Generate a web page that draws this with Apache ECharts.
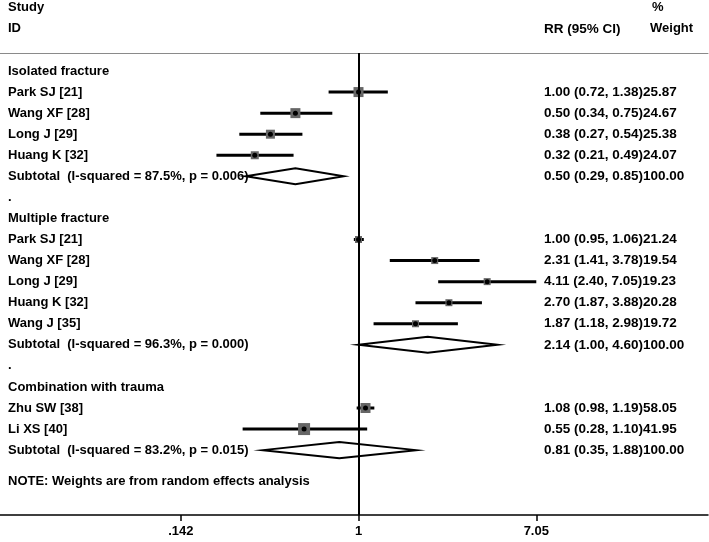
<!DOCTYPE html>
<html><head><meta charset="utf-8">
<script src="https://cdn.jsdelivr.net/npm/echarts@6/dist/echarts.min.js"></script>
<style>html,body{margin:0;padding:0;background:#fff}#c{width:709px;height:542px}</style>
</head><body><div id="c"></div>
<script>
// ---- data ----
const rowLabels = ["Isolated fracture","Park SJ [21]","Wang XF [28]","Long J [29]","Huang K [32]",
  "Subtotal  (I-squared = 87.5%, p = 0.006)",".",
  "Multiple fracture","Park SJ [21]","Wang XF [28]","Long J [29]","Huang K [32]","Wang J [35]",
  "Subtotal  (I-squared = 96.3%, p = 0.000)",".",
  "Combination with trauma","Zhu SW [38]","Li XS [40]",
  "Subtotal  (I-squared = 83.2%, p = 0.015)"];
const rowKind = ["group","study","study","study","study","subtotal","gap",
  "group","study","study","study","study","study","subtotal","gap",
  "group","study","study","subtotal"];
const rr     = [null,1.00,0.50,0.38,0.32,0.50,null,null,1.00,2.31,4.11,2.70,1.87,2.14,null,null,1.08,0.55,0.81];
const ciLow  = [null,0.72,0.34,0.27,0.21,0.29,null,null,0.95,1.41,2.40,1.87,1.18,1.00,null,null,0.98,0.28,0.35];
const ciHigh = [null,1.38,0.75,0.54,0.49,0.85,null,null,1.06,3.78,7.05,3.88,2.98,4.60,null,null,1.19,1.10,1.88];
const weight = [null,25.87,24.67,25.38,24.07,100.00,null,null,21.24,19.54,19.23,20.28,19.72,100.00,null,null,58.05,41.95,100.00];
const noteText = "NOTE: Weights are from random effects analysis";
const xTickValues = [0.142, 1, 7.05];
const xTickLabels = [".142", "1", "7.05"];
const headerLeft = ["Study", "ID"];
const headerEffect = "RR (95% CI)";
const headerWeight = ["%", "Weight"];

// ---- styles ----
const boxPx = [null,10,10,9,8,null,null,null,7,7,7,7,7,null,null,null,10,12,null];
const FONT = '"Liberation Sans", Arial, sans-serif';
const FS = 13;
const FS_R = 13.5;

const chart = echarts.init(document.getElementById('c'), null, {renderer: 'canvas'});

const rowsData = rowLabels.map((l, i) => [i]);
const studyData = [], subData = [];
rowKind.forEach((k, i) => {
  if (k === 'study') studyData.push([rr[i], ciLow[i], ciHigh[i], i]);
  if (k === 'subtotal') subData.push([rr[i], ciLow[i], ciHigh[i], i]);
});

function effText(i) {
  if (rr[i] == null) return '';
  return rr[i].toFixed(2) + ' (' + ciLow[i].toFixed(2) + ', ' + ciHigh[i].toFixed(2) + ')' + weight[i].toFixed(2);
}

const textStyleBase = {fill: '#000', font: 'bold ' + FS + 'px ' + FONT, verticalAlign: 'middle', align: 'left'};
const textStyleRight = {fill: '#000', font: 'bold ' + FS_R + 'px ' + FONT, verticalAlign: 'middle', align: 'left'};

chart.setOption({
  animation: false,
  backgroundColor: '#fff',
  grid: {left: 0, right: 1, top: 53, bottom: 27},
  xAxis: [{
    type: 'log', logBase: Math.E, min: 0.01948, max: 46.5, position: 'bottom',
    axisLine: {show: true, onZero: false, lineStyle: {color: '#000', width: 1.5}},
    axisTick: {show: true, length: 6, lineStyle: {color: '#000', width: 1.5}, customValues: xTickValues},
    axisLabel: {show: true, margin: 10, color: '#000', fontSize: FS, fontWeight: 'bold', fontFamily: FONT,
      customValues: xTickValues,
      formatter: function (v) {
        let best = 0;
        xTickValues.forEach((t, j) => { if (Math.abs(t - v) < Math.abs(xTickValues[best] - v)) best = j; });
        return xTickLabels[best];
      }},
    splitLine: {show: false}
  }, {
    type: 'value', position: 'top', min: 0, max: 1,
    axisLine: {show: true, onZero: false, lineStyle: {color: '#8a8a8a', width: 1}},
    axisTick: {show: false}, axisLabel: {show: false}, splitLine: {show: false}
  }],
  yAxis: {type: 'value', inverse: true, min: -0.855, max: 21.08, show: false},
  graphic: [
    {type: 'text', left: 8, top: 1, style: {text: headerLeft[0], fill: '#000', font: 'bold ' + FS + 'px ' + FONT}},
    {type: 'text', left: 8, top: 22, style: {text: headerLeft[1], fill: '#000', font: 'bold ' + FS + 'px ' + FONT}},
    {type: 'text', left: 544, top: 22, style: {text: headerEffect, fill: '#000', font: 'bold ' + FS_R + 'px ' + FONT}},
    {type: 'text', left: 652, top: 1, style: {text: headerWeight[0], fill: '#000', font: 'bold ' + FS + 'px ' + FONT}},
    {type: 'text', left: 650, top: 22, style: {text: headerWeight[1], fill: '#000', font: 'bold ' + FS + 'px ' + FONT}}
  ],
  series: [
    {
      name: 'text', type: 'custom', data: rowsData.concat([[19.5]]),
      encode: {y: 0}, silent: true, clip: false,
      renderItem: function (params, api) {
        const i = params.dataIndex;
        const y = api.coord([1, api.value(0)])[1];
        if (i >= rowLabels.length) {
          return {type: 'text', x: 8, y: y, style: Object.assign({text: noteText}, textStyleBase)};
        }
        const children = [{type: 'text', x: 8, y: y, style: Object.assign({text: rowLabels[i]}, textStyleBase)}];
        const t = effText(i);
        if (t) children.push({type: 'text', x: 544, y: y, style: Object.assign({text: t}, textStyleRight)});
        return {type: 'group', children: children};
      }
    },
    {
      name: 'studies', type: 'custom', data: studyData,
      encode: {x: [0, 1, 2], y: 3}, silent: true,
      renderItem: function (params, api) {
        const row = api.value(3);
        const c = api.coord([api.value(0), row]);
        const l = api.coord([api.value(1), row]);
        const h = api.coord([api.value(2), row]);
        const s = boxPx[row];
        return {type: 'group', children: [
          {type: 'line', shape: {x1: l[0], y1: l[1], x2: h[0], y2: h[1]}, style: {stroke: '#000', lineWidth: 3}},
          {type: 'rect', shape: {x: c[0] - s / 2, y: c[1] - s / 2, width: s, height: s}, style: {fill: '#666'}},
          {type: 'circle', shape: {cx: c[0], cy: c[1], r: 2.5}, style: {fill: '#000'}}
        ]};
      },
      markLine: {
        silent: true, symbol: 'none', label: {show: false},
        lineStyle: {color: '#000', width: 2, type: 'solid'},
        data: [{xAxis: 1}]
      }
    },
    {
      name: 'subtotals', type: 'custom', data: subData,
      encode: {x: [0, 1, 2], y: 3}, silent: true,
      renderItem: function (params, api) {
        const row = api.value(3);
        const c = api.coord([api.value(0), row]);
        const l = api.coord([api.value(1), row]);
        const h = api.coord([api.value(2), row]);
        const hh = 8;
        return {type: 'polygon', shape: {points: [[l[0], l[1]], [c[0], c[1] - hh], [h[0], h[1]], [c[0], c[1] + hh]]},
          style: {fill: 'none', stroke: '#000', lineWidth: 2}};
      }
    }
  ]
});
</script></body></html>
